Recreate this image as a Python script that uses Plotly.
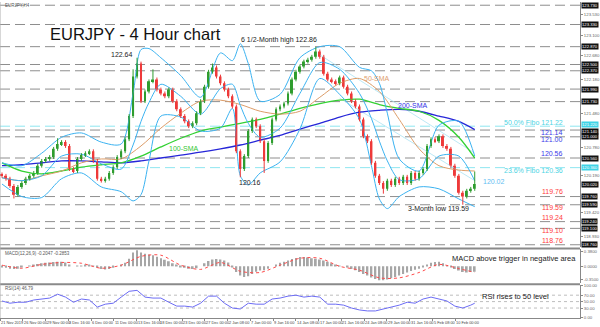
import plotly.graph_objects as go

# ---------------- data ----------------
TITLE = "EURJPY - 4 Hour chart"
OPEN_FIRST = 120.22
CLOSE = [120.19, 120.13, 119.98, 119.80, 119.96, 120.04, 120.13, 120.19, 120.25, 120.40,
         120.50, 120.54, 120.58, 120.75, 120.85, 120.89, 120.81, 120.33, 120.29, 120.54,
         120.62, 120.66, 120.70, 120.50, 120.13, 120.09, 120.13, 120.25, 120.37, 120.58,
         120.70, 120.95, 121.43, 122.25, 122.52, 121.74, 121.94, 122.15, 122.19, 121.98,
         121.90, 121.84, 121.98, 121.74, 121.57, 121.43, 121.32, 121.22, 121.28, 121.49,
         121.74, 122.04, 122.35, 122.44, 122.25, 122.11, 121.98, 121.84, 121.63, 120.70,
         120.33, 120.60, 121.12, 121.36, 121.22, 120.91, 120.50, 120.87, 121.36, 121.57,
         121.63, 121.69, 121.90, 122.19, 122.35, 122.46, 122.56, 122.60, 122.66, 122.77,
         122.66, 122.31, 122.19, 122.15, 122.11, 122.23, 122.04, 121.90, 121.74, 121.63,
         121.36, 121.01, 120.91, 120.46, 120.19, 120.04, 119.92, 120.09, 120.00, 120.13,
         120.04, 120.17, 120.04, 120.25, 120.13, 120.25, 120.33, 120.81, 120.95, 120.91,
         121.01, 120.81, 120.75, 120.40, 120.19, 119.84, 119.76, 119.88, 119.92, 120.02]
HIGH_OVERRIDE = {14: 120.97, 33: 122.40, 34: 122.64, 38: 122.40, 53: 122.52, 79: 122.86, 119: 120.28}
LOW_OVERRIDE = {3: 119.72, 60: 120.16, 66: 120.25, 96: 119.82, 116: 119.59}
WICK = 0.04

BB_IDX = [0, 5, 10, 15, 20, 25, 30, 33, 35, 37, 40, 45, 50, 55, 58, 60, 62, 65, 70, 75, 80, 85,
          90, 93, 95, 97, 100, 105, 110, 115, 119]
BB_MID = [120.15, 120.09, 120.19, 120.60, 120.64, 120.44, 120.33, 120.83, 121.32, 121.71, 122.09,
          121.84, 121.47, 122.00, 122.09, 121.65, 121.28, 120.99, 121.18, 121.90, 122.54, 122.40,
          121.90, 121.38, 120.91, 120.50, 120.11, 120.13, 120.60, 120.60, 120.09]
BB_UP = [120.46, 120.40, 120.66, 120.99, 121.08, 120.89, 120.85, 121.90, 122.81, 122.83, 122.64,
         122.27, 121.82, 122.74, 122.58, 122.93, 122.52, 121.74, 121.88, 122.64, 122.87, 122.87,
         122.44, 122.37, 122.11, 121.49, 120.54, 120.29, 121.24, 121.32, 120.60]
BB_LO = [120.02, 119.76, 119.74, 120.13, 120.25, 119.96, 119.86, 119.67, 119.80, 120.50, 121.43,
         121.41, 121.12, 121.18, 121.59, 120.19, 120.00, 120.25, 120.48, 121.16, 122.21, 121.88,
         121.36, 120.40, 119.71, 119.51, 119.76, 119.96, 119.92, 119.71, 119.55]

SMA_IDX = [0, 5, 10, 15, 20, 25, 30, 35, 40, 45, 50, 55, 60, 65, 70, 75, 80, 85, 90, 95, 100,
           105, 110, 115, 119]
SMA50 = [120.15, 120.09, 120.19, 120.29, 120.46, 120.54, 120.54, 120.81, 121.18, 121.49, 121.74,
         121.76, 121.67, 121.53, 121.47, 121.53, 121.82, 122.11, 122.21, 121.94, 121.36, 120.75,
         120.40, 120.31, 120.29]
SMA100 = [120.46, 120.29, 120.23, 120.29, 120.37, 120.42, 120.46, 120.60, 120.79, 120.97, 121.12,
          121.20, 121.28, 121.36, 121.47, 121.59, 121.69, 121.76, 121.78, 121.67, 121.59, 121.53,
          121.34, 120.99, 120.56]
SMA200 = [120.40, 120.42, 120.46, 120.50, 120.50, 120.48, 120.46, 120.50, 120.56, 120.62, 120.68,
          120.75, 120.83, 120.93, 121.03, 121.16, 121.28, 121.41, 121.51, 121.55, 121.57, 121.53,
          121.43, 121.32, 121.15]

TREND_LINES = [((80, 122.70), (119, 120.66)), ((85, 121.80), (119, 120.09))]

GRAY_LEVELS = [123.73, 123.33, 122.87, 122.50, 122.37, 121.99, 121.73, 121.14, 121.00, 120.56,
               119.76, 119.59, 119.24, 119.10, 118.76]
FIBO_LEVELS = [121.22, 120.36]
LAST_PRICE = 120.02

MACD = [-0.03, -0.04, -0.06, -0.07, -0.06, -0.03, 0.00, 0.02, 0.04, 0.06,
        0.08, 0.09, 0.10, 0.11, 0.12, 0.12, 0.10, 0.03, 0.00, 0.01,
        0.02, 0.03, 0.03, 0.01, -0.04, -0.07, -0.08, -0.07, -0.04, 0.00,
        0.04, 0.09, 0.20, 0.36, 0.42, 0.36, 0.33, 0.31, 0.29, 0.25,
        0.21, 0.17, 0.13, 0.08, 0.03, -0.01, -0.04, -0.06, -0.07, -0.05,
        0.00, 0.08, 0.14, 0.18, 0.19, 0.18, 0.15, 0.10, -0.02, -0.15,
        -0.24, -0.28, -0.26, -0.20, -0.14, -0.11, -0.10, -0.06, 0.00, 0.05,
        0.09, 0.12, 0.15, 0.19, 0.22, 0.24, 0.24, 0.23, 0.21, 0.20,
        0.18, 0.15, 0.12, 0.08, 0.04, 0.02, 0.00, -0.03, -0.07, -0.10,
        -0.15, -0.20, -0.24, -0.29, -0.33, -0.36, -0.36, -0.34, -0.31, -0.28,
        -0.24, -0.20, -0.16, -0.12, -0.09, -0.06, -0.03, 0.04, 0.09, 0.11,
        0.12, 0.08, 0.02, -0.03, -0.07, -0.11, -0.15, -0.16, -0.15, -0.14]
SIGNAL = [0.03, -0.05, 0.05, 0.10, 0.08, -0.05, 0.03, 0.26, 0.29, 0.03, -0.08, 0.10, -0.13,
          -0.16, 0.03, 0.21, 0.21, 0.00, -0.10, -0.30, -0.30, -0.16, 0.05, -0.06, -0.16]

RSI_IDX = list(range(0, 120, 2)) + [119]
RSI = [52, 45, 48, 48, 55, 58, 61, 73, 64, 48, 58, 55, 33, 42, 45, 64, 82, 85, 64, 61,
       61, 48, 36, 36, 33, 45, 67, 67, 45, 30, 27, 45, 42, 42, 58, 61, 67, 70, 64, 67,
       64, 42, 42, 39, 30, 24, 21, 21, 27, 33, 39, 48, 45, 58, 64, 58, 52, 36, 30, 39, 45]

DATE_LABELS = ["21 Nov 2019", "26 Nov 00:00", "29 Nov 00:00", "3 Dec 16:00", "6 Dec 00:00",
               "11 Dec 00:00", "13 Dec 16:00", "18 Dec 00:00", "23 Dec 00:00", "27 Dec 00:00",
               "2 Jan 08:00", "7 Jan 00:00", "9 Jan 16:00", "14 Jan 08:00", "17 Jan 00:00",
               "21 Jan 16:00", "24 Jan 08:00", "29 Jan 00:00", "31 Jan 16:00", "5 Feb 08:00",
               "10 Feb 00:00"]
DATE_STEP = 5.73  # plotted candles between date labels

PRICE_TICKS = [123.53, 123.10, 122.68, 122.18, 121.48, 120.78, 120.19, 119.42, 118.93]
MACD_TICKS = [0.38, 0.0, -0.35]
RSI_TICKS = [100, 70, 50, 30, 0]

# ---------------- build ----------------
FONT = "Liberation Sans, Arial, sans-serif"
N = len(CLOSE)
xs = list(range(N))
opens = [OPEN_FIRST] + CLOSE[:-1]
highs = [HIGH_OVERRIDE.get(i, max(o, c) + WICK) for i, (o, c) in enumerate(zip(opens, CLOSE))]
lows = [LOW_OVERRIDE.get(i, min(o, c) - WICK) for i, (o, c) in enumerate(zip(opens, CLOSE))]

UP_COL, DN_COL = "#2f9d2f", "#ee3a3a"
BB_COL = "#3bb2f0"
fig = go.Figure()


def line(x, y, color, width=1.0, yaxis="y", dash=None, shape="spline", opacity=1.0):
    fig.add_trace(go.Scatter(x=x, y=y, mode="lines", yaxis=yaxis, hoverinfo="skip",
                             opacity=opacity,
                             line=dict(color=color, width=width, dash=dash, shape=shape,
                                       smoothing=0.8 if shape == "spline" else None)))


for (a, b) in TREND_LINES:
    line([a[0], b[0]], [a[1], b[1]], "#a9e2f2", 0.8, shape="linear")
line(SMA_IDX, SMA200, "#2626d8", 1.3)
line(SMA_IDX, SMA100, "#33d133", 1.3)
line(SMA_IDX, SMA50, "#dc9c68", 1.0)
line(BB_IDX, BB_UP, BB_COL, 1.0)
line(BB_IDX, BB_MID, BB_COL, 1.0)
line(BB_IDX, BB_LO, BB_COL, 1.0)

# candles: wicks as line segments, bodies as thin bars
for up, col in [(True, UP_COL), (False, DN_COL)]:
    wx, wy = [], []
    for i in xs:
        if (CLOSE[i] >= opens[i]) == up:
            wx += [i, i, None]
            wy += [lows[i], highs[i], None]
    fig.add_trace(go.Scatter(x=wx, y=wy, mode="lines", hoverinfo="skip",
                             line=dict(color=col, width=1)))
body = [max(abs(c - o), 0.012) for o, c in zip(opens, CLOSE)]
base = [min(o, c) for o, c in zip(opens, CLOSE)]
cols = [UP_COL if c >= o else DN_COL for o, c in zip(opens, CLOSE)]
fig.add_trace(go.Bar(x=xs, y=body, base=base, width=0.5, hoverinfo="skip",
                     marker=dict(color=cols, line=dict(width=0))))

fig.add_trace(go.Bar(x=xs, y=MACD, yaxis="y2", width=0.45,
                     marker=dict(color="#a6a6a6", line=dict(width=0)), hoverinfo="skip"))
line(SMA_IDX, SIGNAL, "#ff4a4a", 1.0, yaxis="y2", dash="dot")
line(RSI_IDX, RSI, "#6c6cf4", 1.0, yaxis="y3", shape="linear")

PW, PH = 582.0, 318.0


def fx(p):
    return p / PW


def fy(p):
    return (PH - p) / PH


shapes = []
for lv in GRAY_LEVELS:
    shapes.append(dict(type="line", xref="paper", x0=0, x1=1, yref="y", y0=lv, y1=lv,
                       line=dict(color="#8e8e8e", width=1, dash="10px,5px"), layer="below"))
for lv in FIBO_LEVELS:
    shapes.append(dict(type="line", xref="paper", x0=0, x1=1, yref="y", y0=lv, y1=lv,
                       line=dict(color="#8fe6f0", width=1, dash="10px,5px"), layer="below"))
for lv in [70, 50, 30]:
    shapes.append(dict(type="line", xref="paper", x0=0, x1=1, yref="y3", y0=lv, y1=lv,
                       line=dict(color="#bdbdbd", width=1, dash="dot"), layer="below"))
for sep in [248, 284]:
    shapes.append(dict(type="line", xref="paper", x0=0, x1=1, yref="paper", y0=fy(sep), y1=fy(sep),
                       line=dict(color="#8a8a8a", width=2)))
shapes.append(dict(type="line", xref="paper", x0=0, x1=0, yref="paper", y0=0, y1=1,
                   line=dict(color="#b0b0b0", width=1)))

ann = []


def text(t, x, y, size=7, color="#222222", xanchor="left", yanchor="middle", **kw):
    ann.append(dict(text=t, x=fx(x), y=fy(y), xref="paper", yref="paper", showarrow=False,
                    xanchor=xanchor, yanchor=yanchor, font=dict(family=FONT, size=size, color=color), **kw))


text(TITLE, 48, 32.5, size=16.5, color="#111111")
text("EURJPY,H4", 3, 4, size=4.5, color="#555555")
text("MACD(12,26,9) -0.2047 -0.2853", 3, 253, size=4.5, color="#555555")
text("RSI(14) 46.79", 3, 288, size=4.5, color="#555555")
text("122.64", 122, 52.5, color="#222222", xanchor="center")
text("6 1/2-Month high 122.86", 240, 38, color="#222222")
text("50-SMA", 363, 77, color="#e0a070")
text("200-SMA", 397, 104, color="#3232e6")
text("100-SMA", 168, 147, color="#33c833")
text("120.16", 251, 182, color="#222222", xanchor="center")
text("3-Month low 119.59", 407, 208, color="#222222")
text("120.02", 483, 181, color="#62bdf2")
R = 567
text("50.0% Fibo 121.22", R, 121, color="#4cd4e4", xanchor="right")
text("121.14", R, 131, color="#3a3ae8", xanchor="right")
text("121.00", R, 138, color="#3a3ae8", xanchor="right")
text("120.56", R, 152, color="#3a3ae8", xanchor="right")
text("23.6% Fibo 120.36", R, 170, color="#4cd4e4", xanchor="right")
text("119.76", R, 191, color="#ff3b3b", xanchor="right")
text("119.59", R, 207, color="#ff3b3b", xanchor="right")
text("119.24", R, 217, color="#ff3b3b", xanchor="right")
text("119.10", R, 230, color="#ff3b3b", xanchor="right")
text("118.76", R, 240, color="#ff3b3b", xanchor="right")
text("MACD above trigger in negative area", 452, 258.5, size=7.5, color="#222222")
text("RSI rises to 50 level", 482, 296, size=7.5, color="#222222")

SHIFT = {121.22: 2, 121.14: -1}
for lv in GRAY_LEVELS + [LAST_PRICE] + FIBO_LEVELS:
    bg = "#3fd3e6" if lv in FIBO_LEVELS else "#111111"
    ann.append(dict(text=f"{lv:.3f}", x=1, xref="paper", xanchor="left", xshift=1, y=lv, yref="y",
                    yshift=SHIFT.get(lv, 0), showarrow=False, bgcolor=bg, borderpad=0,
                    font=dict(family=FONT, size=4.2, color="white")))

date_pos = [-0.5 + k * DATE_STEP for k in range(len(DATE_LABELS))]
for p, lab in zip(date_pos, DATE_LABELS):
    ann.append(dict(text=lab, x=p, xref="x", xanchor="left", xshift=-1, y=fy(322.5), yref="paper",
                    yanchor="middle", showarrow=False,
                    font=dict(family=FONT, size=3.9, color="#444444")))

tickfont = dict(family=FONT, size=4.3, color="#666666")
axis_common = dict(side="right", showgrid=False, zeroline=False, tickfont=tickfont, ticks="outside",
                   ticklen=2, tickcolor="#888888", showline=True, linecolor="#888888", linewidth=1)
fig.update_layout(
    width=600, height=327, margin=dict(l=0, r=18, t=0, b=9),
    paper_bgcolor="white", plot_bgcolor="white", showlegend=False, barmode="overlay",
    xaxis=dict(range=[-0.5, 145.5], anchor="y3", showgrid=False, zeroline=False,
               showticklabels=False, tickvals=date_pos, ticks="outside", ticklen=2,
               tickcolor="#888888", showline=True, linecolor="#888888", linewidth=1,
               fixedrange=True),
    yaxis=dict(domain=[fy(247), 1], range=[118.704, 123.797], tickvals=PRICE_TICKS,
               ticktext=[f"{v:.3f}" for v in PRICE_TICKS], **axis_common),
    yaxis2=dict(domain=[fy(283), fy(249)], range=[-0.44, 0.44], anchor="x", tickvals=MACD_TICKS,
                ticktext=[f"{v:.4f}" for v in MACD_TICKS], **axis_common),
    yaxis3=dict(domain=[0, fy(285)], range=[-1, 101], anchor="x", tickvals=RSI_TICKS,
                ticktext=[f"{v:.2f}" for v in RSI_TICKS], **axis_common),
    shapes=shapes, annotations=ann,
)

fig.write_html("out.html")
